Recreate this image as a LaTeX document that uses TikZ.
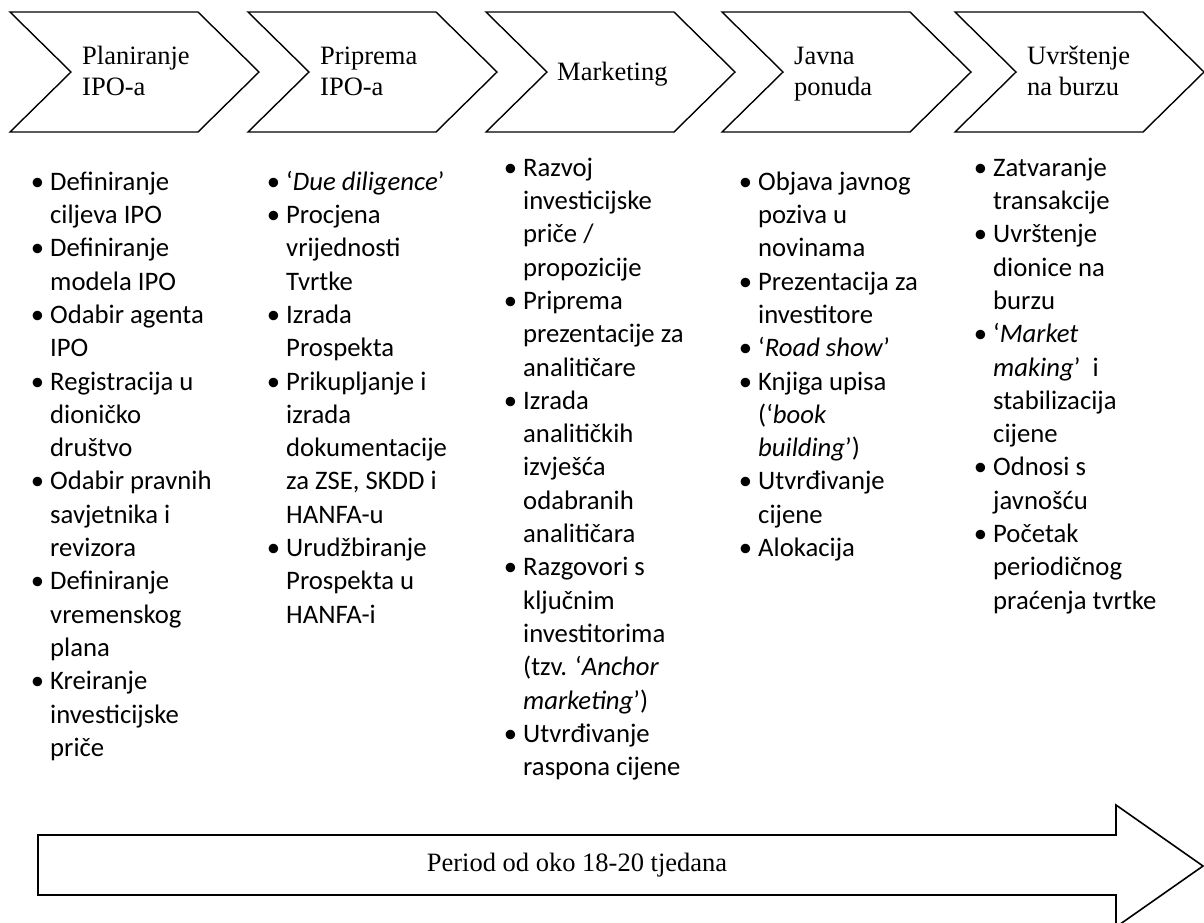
\documentclass[tikz,border=0pt]{standalone}
\usepackage{fontspec}
\setmainfont{Liberation Serif}
\newfontfamily\calibri{Carlito}

\newcommand{\bul}{\strut\llap{\textbullet\hspace{6pt}}}

\tikzset{
  phase/.style     = {draw, line width=1.4pt, line join=miter},
  phaselabel/.style = {anchor=base west, align=left, inner sep=0pt,
                        font=\fontsize{26.5}{31}\selectfont},
  tasklist/.style  = {anchor=north west, align=left, inner sep=0pt,
                      font=\calibri\fontsize{26.7}{33.3}\selectfont},
}

\begin{document}
\begin{tikzpicture}[x=1pt, y=-1pt]
  \useasboundingbox (0,0) rectangle (1204,922);

  \draw[phase] (10,12)  -- (198,12)  -- (259,72)  -- (198,132)  -- (10,132)  -- (71,72)   -- cycle;
  \draw[phase] (248,12) -- (436,12)  -- (497,72)  -- (436,132)  -- (248,132) -- (309,72)  -- cycle;
  \draw[phase] (486,12) -- (674,12)  -- (735,72)  -- (674,132)  -- (486,132) -- (547,72)  -- cycle;
  \draw[phase] (722,12) -- (910,12)  -- (971,72)  -- (910,132)  -- (722,132) -- (783,72)  -- cycle;
  \draw[phase] (955,12) -- (1143,12) -- (1204,72) -- (1143,132) -- (955,132) -- (1016,72) -- cycle;

  \node[phaselabel] (plan)    at (82,95)   {Planiranje\\IPO-a};
  \node[phaselabel] (prep)    at (320,95)  {Priprema\\IPO-a};
  \node[phaselabel] (mark)    at (557,80)  {Marketing};
  \node[phaselabel] (offer)   at (794,95)  {Javna\\ponuda};
  \node[phaselabel] (listing) at (1027,95) {Uvrštenje\\na burzu};

  \node[tasklist] (planlist) at (50,166.7) {%
    \bul Definiranje\\ciljeva IPO\\
    \bul Definiranje\\modela IPO\\
    \bul Odabir agenta\\IPO\\
    \bul Registracija u\\dioničko\\društvo\\
    \bul Odabir pravnih\\savjetnika i\\revizora\\
    \bul Definiranje\\vremenskog\\plana\\
    \bul Kreiranje\\investicijske\\priče};

  \node[tasklist] (preplist) at (286,166.7) {%
    \bul ‘\textit{Due diligence}’\\
    \bul Procjena\\vrijednosti\\Tvrtke\\
    \bul Izrada\\Prospekta\\
    \bul Prikupljanje i\\izrada\\dokumentacije\\za ZSE, SKDD i\\HANFA-u\\
    \bul Urudžbiranje\\Prospekta u\\HANFA-i};

  \node[tasklist] (marklist) at (523,152.7) {%
    \bul Razvoj\\investicijske\\priče /\\propozicije\\
    \bul Priprema\\prezentacije za\\analitičare\\
    \bul Izrada\\analitičkih\\izvješća\\odabranih\\analitičara\\
    \bul Razgovori s\\ključnim\\investitorima\\(tzv. ‘\textit{Anchor}\\\textit{marketing}’)\\
    \bul Utvrđivanje\\raspona cijene};

  \node[tasklist] (offerlist) at (758,166.7) {%
    \bul Objava javnog\\poziva u\\novinama\\
    \bul Prezentacija za\\investitore\\
    \bul ‘\textit{Road show}’\\
    \bul Knjiga upisa\\(‘\textit{book}\\\textit{building}’)\\
    \bul Utvrđivanje\\cijene\\
    \bul Alokacija};

  \node[tasklist] (listinglist) at (993,152.7) {%
    \bul Zatvaranje\\transakcije\\
    \bul Uvrštenje\\dionice na\\burzu\\
    \bul ‘\textit{Market}\\\textit{making}’~\ i\\stabilizacija\\cijene\\
    \bul Odnosi s\\javnošću\\
    \bul Početak\\periodičnog\\praćenja tvrtke};

  \draw[line width=1.6pt, line join=miter]
    (38,835) -- (1116,835) -- (1116,805) -- (1203,866) -- (1116,927)
    -- (1116,895) -- (38,895) -- cycle;
  \node[inner sep=0pt, font=\fontsize{26.5}{31}\selectfont] (period) at (577,865)
    {Period od oko 18-20 tjedana};
\end{tikzpicture}
\end{document}
